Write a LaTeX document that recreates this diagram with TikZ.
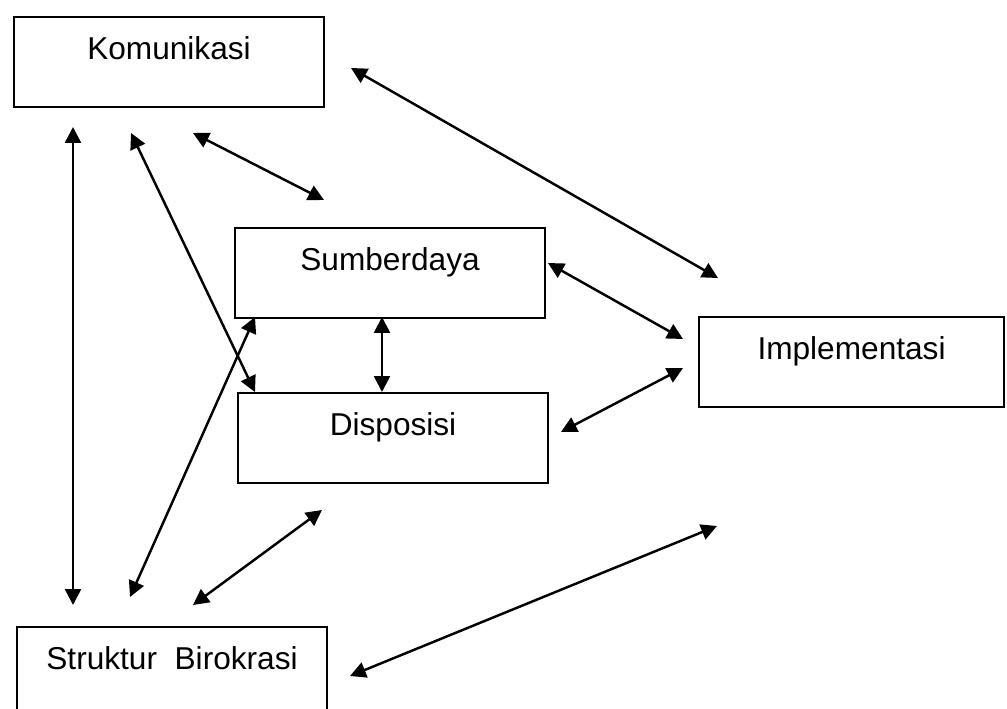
\documentclass[tikz,border=0pt]{standalone}
\usepackage{fontspec}
\setmainfont{Liberation Sans}
\usetikzlibrary{arrows.meta}

\begin{document}
\begin{tikzpicture}[x=0.02cm, y=-0.02cm]
    \tikzset{%
      blok/.style={draw, line width=1.2pt, inner sep=0pt, anchor=north west,
        minimum width=6.2cm, text height=24pt, text depth=27pt,
        font=\fontsize{18}{21}\selectfont},
      panah/.style={{Triangle[length=9pt, width=9pt]}-{Triangle[length=9pt, width=9pt]}, line width=1.4pt}
      }
    \useasboundingbox (0,0) rectangle (1007,709);

    \node [blok] (Bkom) at (13,16) {Komunikasi};
    \node [blok] (Bsum) at (234,227) {Sumberdaya};
    \node [blok] (Bdis) at (237,392) {Disposisi};
    \node [blok, minimum width=6.1cm] (Bimp) at (698,316) {Implementasi};
    \node [blok] (Bstr) at (16,626) {Struktur~~Birokrasi};

    % ujung panah
    \coordinate (Pa1) at (73,127);   \coordinate (Pa2) at (73,605);
    \coordinate (Pb1) at (131,133);  \coordinate (Pb2) at (255,392);
    \coordinate (Pc1) at (193,133);  \coordinate (Pc2) at (324,200);
    \coordinate (Pd1) at (351,68);   \coordinate (Pd2) at (718,278);
    \coordinate (Pe1) at (548,263);  \coordinate (Pe2) at (683,339);
    \coordinate (Pf1) at (382,317);  \coordinate (Pf2) at (382,392);
    \coordinate (Pg1) at (561,432);  \coordinate (Pg2) at (683,368);
    \coordinate (Ph1) at (255,317);  \coordinate (Ph2) at (130,597);
    \coordinate (Pi1) at (322,510);  \coordinate (Pi2) at (193,605);
    \coordinate (Pj1) at (717,526);  \coordinate (Pj2) at (350,676);

    \draw [panah] (Pa1) -- (Pa2);
    \draw [panah] (Pb1) -- (Pb2);
    \draw [panah] (Pc1) -- (Pc2);
    \draw [panah] (Pd1) -- (Pd2);
    \draw [panah] (Pe1) -- (Pe2);
    \draw [panah] (Pf1) -- (Pf2);
    \draw [panah] (Pg1) -- (Pg2);
    \draw [panah] (Ph1) -- (Ph2);
    \draw [panah] (Pi1) -- (Pi2);
    \draw [panah] (Pj1) -- (Pj2);

  \end{tikzpicture}
\end{document}
